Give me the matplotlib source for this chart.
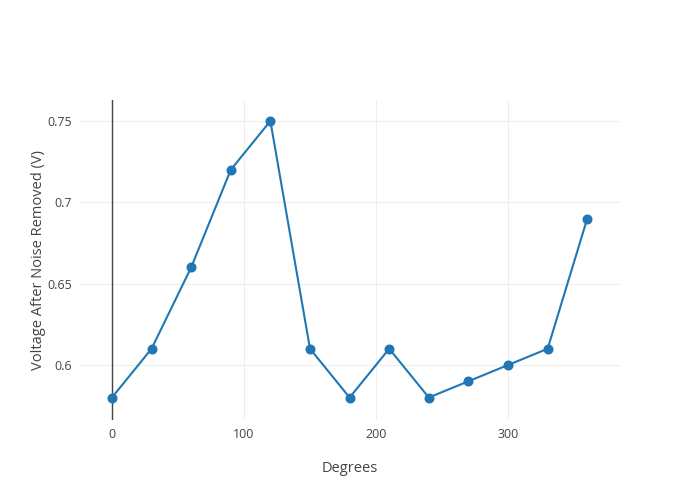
import matplotlib.pyplot as plt

plt.rcParams['font.family'] = ['Open Sans', 'DejaVu Sans']

degrees = [0, 30, 60, 90, 120, 150, 180, 210, 240, 270, 300, 330, 360]
voltage = [0.58, 0.61, 0.66, 0.72, 0.75, 0.61, 0.58, 0.61, 0.58, 0.59, 0.60, 0.61, 0.69]

x_ticks = [0, 100, 200, 300]
y_ticks = [0.6, 0.65, 0.7, 0.75]
y_tick_labels = ['0.6', '0.65', '0.7', '0.75']

fig = plt.figure(figsize=(7, 5), dpi=100)
ax = fig.add_axes([80 / 700, 80 / 500, 540 / 700, 320 / 500])

ax.plot(degrees, voltage, color='#1f77b4', linewidth=1.5, marker='o',
        markersize=6.2, zorder=3, clip_on=False)

ax.set_xlim(-24.2, 384.8)
ax.set_ylim(0.5662, 0.7629)

ax.set_xticks(x_ticks)
ax.set_yticks(y_ticks)
ax.set_yticklabels(y_tick_labels)

# grid and zero line
ax.grid(True, color='#eeeeee', linewidth=0.8)
ax.axvline(0, color='#444444', linewidth=1, zorder=2)
ax.set_axisbelow(True)

for s in ax.spines.values():
    s.set_visible(False)

ax.tick_params(length=0, labelsize=9, colors='#444444', pad=6)
ax.set_xlabel('Degrees', fontsize=10.5, color='#444444', labelpad=14)
ax.set_ylabel('Voltage After Noise Removed (V)', fontsize=10.5, color='#444444', labelpad=1)

fig.savefig('out.png', dpi=100)
plt.close(fig)
